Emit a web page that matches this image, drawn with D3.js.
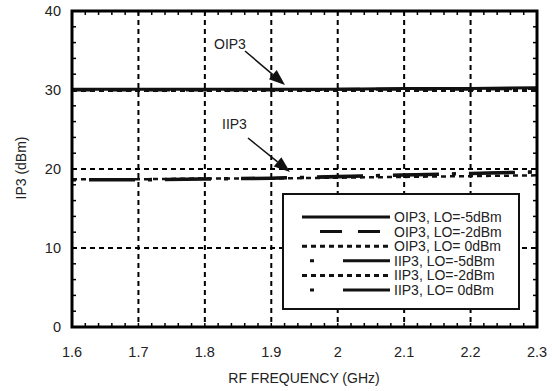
<!DOCTYPE html>
<html>
<head>
<meta charset="utf-8">
<script src="https://cdn.jsdelivr.net/npm/d3@7"></script>
<style>
    body { margin: 0; background: #fff; }
    svg { display: block; font-family: "Liberation Sans", Arial, sans-serif; }
</style>
</head>
<body>
<svg id="chart" width="552" height="391"></svg>
<script>
// DATA (GHz / dBm)
var freq = [ 1.6, 1.7, 1.8, 1.9, 2.0, 2.1, 2.2, 2.3 ];
var oip3LoM5 = [ 30.1, 30.1, 30.1, 30.1, 30.1, 30.2, 30.2, 30.3 ];
var oip3LoM2 = [ 30.0, 30.0, 30.0, 30.0, 30.1, 30.1, 30.1, 30.2 ];
var oip3Lo0 = [ 29.9, 29.9, 29.9, 29.9, 29.9, 29.9, 29.9, 29.9 ];
var iip3LoM5 = [ 18.7, 18.7, 18.8, 18.9, 19.1, 19.3, 19.5, 19.7 ];
var iip3LoM2 = [ 18.7, 18.7, 18.8, 18.8, 18.9, 19.0, 19.1, 19.2 ];
var iip3Lo0 = [ 18.6, 18.6, 18.7, 18.8, 19.0, 19.2, 19.4, 19.6 ];

var seriesNames = [ "OIP3, LO=-5dBm", "OIP3, LO=-2dBm", "OIP3, LO= 0dBm",
    "IIP3, LO=-5dBm", "IIP3, LO=-2dBm", "IIP3, LO= 0dBm" ];
var xTicks = [ 1.6, 1.7, 1.8, 1.9, 2.0, 2.1, 2.2, 2.3 ];
var xTickLabels = [ "1.6", "1.7", "1.8", "1.9", "2", "2.1", "2.2", "2.3" ];
var yTicks = [ 0, 10, 20, 30, 40 ];

// line styles, one per series
var styles = [
    { dash: null, width: 3, legendDash: null },
    { dash: "22,16", width: 3, legendDash: "22,16" },
    { dash: "5,4", width: 2.5, legendDash: "5,4" },
    { dash: "4,13,46,13", width: 2.5, legendDash: "4,29,48,40" },
    { dash: "5,4", width: 2.5, legendDash: "5,4" },
    { dash: "4,13,46,13", width: 3, legendDash: "4,29,48,40" }
];
var seriesValues = [ oip3LoM5, oip3LoM2, oip3Lo0, iip3LoM5, iip3LoM2, iip3Lo0 ];

var margin = { left: 72, right: 537, top: 11, bottom: 327 };

var svg = d3.select( "#chart" );

var x = d3.scaleLinear().domain( [ 1.6, 2.3 ] ).range( [ margin.left, margin.right ] );
var y = d3.scaleLinear().domain( [ 0, 40 ] ).range( [ margin.bottom, margin.top ] );

// GRID (dashed)
var grid = svg.append( "g" ).attr( "stroke", "#000" ).attr( "stroke-width", 2 ).attr( "stroke-dasharray", "5,4" );
grid.selectAll( "line.vx" )
    .data( xTicks.slice( 1, -1 ) )
    .enter().append( "line" )
    .attr( "x1", d => x( d ) ).attr( "x2", d => x( d ) )
    .attr( "y1", margin.top ).attr( "y2", margin.bottom );
grid.selectAll( "line.hy" )
    .data( yTicks.slice( 1, -1 ) )
    .enter().append( "line" )
    .attr( "y1", d => y( d ) ).attr( "y2", d => y( d ) )
    .attr( "x1", margin.left ).attr( "x2", margin.right );

// MINOR TICKS, pointing inward on all four sides
var minorX = d3.range( 0, 36 ).map( i => 1.6 + i * 0.02 );
var minorY = d3.range( 0, 21 ).map( i => i * 2 );
var ticks = svg.append( "g" ).attr( "stroke", "#000" ).attr( "stroke-width", 1.5 );
minorX.forEach( function ( d ) {
    ticks.append( "line" ).attr( "x1", x( d ) ).attr( "x2", x( d ) ).attr( "y1", margin.bottom ).attr( "y2", margin.bottom - 4 );
    ticks.append( "line" ).attr( "x1", x( d ) ).attr( "x2", x( d ) ).attr( "y1", margin.top ).attr( "y2", margin.top + 4 );
} );
minorY.forEach( function ( d ) {
    ticks.append( "line" ).attr( "y1", y( d ) ).attr( "y2", y( d ) ).attr( "x1", margin.left ).attr( "x2", margin.left + 4 );
    ticks.append( "line" ).attr( "y1", y( d ) ).attr( "y2", y( d ) ).attr( "x1", margin.right ).attr( "x2", margin.right - 4 );
} );

// SERIES LINES
var line = d3.line()
    .x( ( d, i ) => x( freq[ i ] ) )
    .y( d => y( d ) );

seriesValues.forEach( function ( vals, i ) {
    svg.append( "path" )
        .datum( vals )
        .attr( "d", line )
        .attr( "fill", "none" )
        .attr( "stroke", "#111" )
        .attr( "stroke-width", styles[ i ].width )
        .attr( "stroke-dasharray", styles[ i ].dash );
} );

// FRAME
svg.append( "rect" )
    .attr( "x", margin.left ).attr( "y", margin.top )
    .attr( "width", margin.right - margin.left ).attr( "height", margin.bottom - margin.top )
    .attr( "fill", "none" ).attr( "stroke", "#000" ).attr( "stroke-width", 3 );

// TICK LABELS
svg.selectAll( "text.xl" )
    .data( xTicks )
    .enter().append( "text" )
    .attr( "x", d => x( d ) ).attr( "y", 357 )
    .attr( "text-anchor", "middle" ).attr( "font-size", 14.5 ).attr( "fill", "#222" )
    .text( ( d, i ) => xTickLabels[ i ] );
svg.selectAll( "text.yl" )
    .data( yTicks )
    .enter().append( "text" )
    .attr( "x", 61 ).attr( "y", d => y( d ) + 5 )
    .attr( "text-anchor", "end" ).attr( "font-size", 14.5 ).attr( "fill", "#222" )
    .text( d => d );

// AXIS TITLES
svg.append( "text" )
    .attr( "x", 304 ).attr( "y", 383 )
    .attr( "text-anchor", "middle" ).attr( "font-size", 14 ).attr( "fill", "#222" )
    .text( "RF FREQUENCY (GHz)" );
svg.append( "text" )
    .attr( "transform", "translate(26,168) rotate(-90)" )
    .attr( "text-anchor", "middle" ).attr( "font-size", 14 ).attr( "fill", "#222" )
    .text( "IP3 (dBm)" );

// ANNOTATIONS WITH ARROWS
function arrow( x1, y1, x2, y2 ) {
    var ang = Math.atan2( y2 - y1, x2 - x1 );
    var len = 16, half = 6;
    var bx = x2 - len * Math.cos( ang ), by = y2 - len * Math.sin( ang );
    svg.append( "line" )
        .attr( "x1", x1 ).attr( "y1", y1 ).attr( "x2", bx ).attr( "y2", by )
        .attr( "stroke", "#111" ).attr( "stroke-width", 1.5 );
    var pts = [
        [ x2, y2 ],
        [ bx + half * Math.sin( ang ), by - half * Math.cos( ang ) ],
        [ bx - half * Math.sin( ang ), by + half * Math.cos( ang ) ]
    ];
    svg.append( "polygon" ).attr( "points", pts.join( " " ) ).attr( "fill", "#111" );
}
svg.append( "text" ).attr( "x", 214 ).attr( "y", 49 ).attr( "font-size", 14 ).attr( "fill", "#222" ).text( "OIP3" );
arrow( 245, 51, 285, 85 );
svg.append( "text" ).attr( "x", 222 ).attr( "y", 129 ).attr( "font-size", 14 ).attr( "fill", "#222" ).text( "IIP3" );
arrow( 248, 138, 290, 172 );

// LEGEND
var legend = svg.append( "g" );
legend.append( "rect" )
    .attr( "x", 283 ).attr( "y", 194 ).attr( "width", 236 ).attr( "height", 115 )
    .attr( "fill", "#fff" ).attr( "stroke", "#111" ).attr( "stroke-width", 2 );

seriesNames.forEach( function ( name, i ) {
    var ly = 217 + i * 14.6;
    var sx = ( i === 1 ) ? 320 : ( i >= 3 && i !== 4 ) ? 310 : 302;
    legend.append( "line" )
        .attr( "x1", sx ).attr( "x2", 390 ).attr( "y1", ly ).attr( "y2", ly )
        .attr( "stroke", "#111" ).attr( "stroke-width", 3 )
        .attr( "stroke-dasharray", styles[ i ].legendDash );
    legend.append( "text" )
        .attr( "x", 394 ).attr( "y", ly + 5 )
        .attr( "font-size", 14 ).attr( "fill", "#222" )
        .text( name );
} );
</script>
</body>
</html>
